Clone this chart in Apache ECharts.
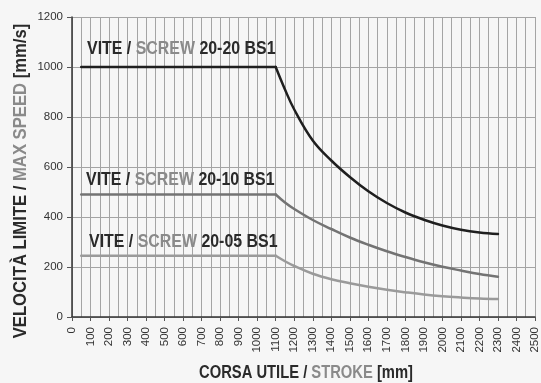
<!DOCTYPE html>
<html>
<head>
<meta charset="utf-8">
<script src="https://cdn.jsdelivr.net/npm/echarts@6/dist/echarts.min.js"></script>
<style>
  html, body { margin: 0; padding: 0; background: #f6f6f6; }
  #chart { width: 541px; height: 383px; }
</style>
</head>
<body>
<div id="chart"></div>
<script>
// Stroke positions (mm) where each curve is sampled
const stroke = [50, 1100, 1150, 1200, 1300, 1400, 1500, 1600, 1700, 1800, 1900, 2000, 2100, 2200, 2300];

// Maximum speed (mm/s) for each screw
const speed2020 = [1000, 1000, 910, 830, 706, 626, 560, 503, 456, 418, 389, 366, 349, 338, 332];
const speed2010 = [490, 490, 458, 432, 388, 352, 318, 289, 263, 240, 219, 201, 186, 172, 161];
const speed2005 = [245, 245, 223, 204, 173, 151, 135, 121, 109, 99, 90, 83, 78, 74, 72];

// Curve captions: code of each screw
const curveCodes = ['20-20 BS1', '20-10 BS1', '20-05 BS1'];

const FONT = '"Liberation Sans", Arial, sans-serif';
const DARK = '#2a2a2a';
const GREY = '#8a8a8a';
const LINE_COLORS = ['#1f1f1f', '#737373', '#9a9a9a'];

// Bold caption in two tones, squeezed horizontally to a condensed look
function twoTone(size) {
  return {
    d: { fontFamily: FONT, fontWeight: 'bold', fontSize: size, fill: DARK },
    g: { fontFamily: FONT, fontWeight: 'bold', fontSize: size, fill: GREY }
  };
}

function caption(code, left, midY) {
  return {
    type: 'text',
    x: left,
    y: midY,
    scaleX: 0.885,
    style: {
      text: '{d|VITE / }{g|SCREW}{d| ' + code + '}',
      align: 'left',
      verticalAlign: 'middle',
      rich: twoTone(18)
    },
    z: 10
  };
}

// Flat part: the first two samples; curved part: from the knee onwards
function flatPart(values) {
  return stroke.slice(0, 2).map((s, i) => [s, values[i]]);
}
function curvePart(values) {
  return stroke.slice(1).map((s, i) => [s, values[i + 1]]);
}

function curveSeries(values, idx) {
  const style = { color: LINE_COLORS[idx], width: 2.5, cap: 'round', join: 'round' };
  return [
    { type: 'line', name: curveCodes[idx], data: flatPart(values), symbol: 'none',
      lineStyle: style, z: 5 - idx },
    { type: 'line', name: curveCodes[idx], data: curvePart(values), symbol: 'none',
      smooth: 0.4, lineStyle: style, z: 5 - idx }
  ];
}

const plain = v => String(v);

const chart = echarts.init(document.getElementById('chart'));

chart.setOption({
  backgroundColor: '#f6f6f6',
  animation: false,
  grid: { left: 72, right: -1, top: 17, bottom: 66, containLabel: false },
  xAxis: {
    type: 'value',
    min: 0,
    max: 2500,
    interval: 100,
    axisLine: { show: true, lineStyle: { color: '#333', width: 1.5 } },
    axisTick: { show: true, length: 4, lineStyle: { color: '#555' } },
    axisLabel: {
      rotate: 90,
      margin: 10,
      fontFamily: FONT,
      fontSize: 11.5,
      color: '#333',
      formatter: plain
    },
    splitLine: { show: true, lineStyle: { color: '#a4a4a4', width: 1 } },
    minorTick: { show: false, splitNumber: 2 },
    minorSplitLine: { show: true, lineStyle: { color: '#a4a4a4', width: 1 } }
  },
  yAxis: {
    type: 'value',
    min: 0,
    max: 1200,
    interval: 200,
    axisLine: { show: true, lineStyle: { color: '#333', width: 1.5 } },
    axisTick: { show: true, length: 5, lineStyle: { color: '#555' } },
    axisLabel: {
      margin: 9,
      fontFamily: FONT,
      fontSize: 11.5,
      color: '#333',
      formatter: plain
    },
    splitLine: { show: true, lineStyle: { color: '#a4a4a4', width: 1 } }
  },
  series: [
    ...curveSeries(speed2020, 0),
    ...curveSeries(speed2010, 1),
    ...curveSeries(speed2005, 2)
  ],
  graphic: [
    caption(curveCodes[0], 87, 49),
    caption(curveCodes[1], 86, 180.5),
    caption(curveCodes[2], 89, 242),
    {
      type: 'text',
      x: 306,
      y: 373,
      scaleX: 0.82,
      style: {
        text: '{d|CORSA UTILE / }{g|STROKE}{d| [mm]}',
        align: 'center',
        verticalAlign: 'middle',
        rich: twoTone(18)
      }
    },
    {
      type: 'text',
      x: 20.5,
      y: 181,
      rotation: Math.PI / 2,
      scaleX: 0.9,
      style: {
        text: '{d|VELOCITÀ LIMITE / }{g|MAX SPEED}{d| [mm/s]}',
        align: 'center',
        verticalAlign: 'middle',
        rich: twoTone(18.5)
      }
    }
  ]
});
</script>
</body>
</html>
